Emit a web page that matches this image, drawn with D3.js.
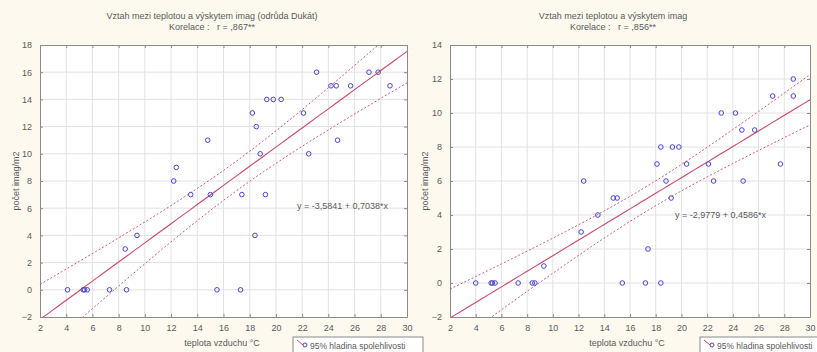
<!DOCTYPE html>
<html>
<head>
<meta charset="utf-8">
<script src="https://cdn.jsdelivr.net/npm/d3@7"></script>
<style>
  body { margin: 0; background: #fdf9ef; }
  svg { display: block; }
</style>
</head>
<body>
<div id="chart"></div>
<script>
// data (temperature vs. count)
const tempDukat  = [4.1, 5.3, 5.4, 5.6, 7.3, 8.5, 8.6, 9.4, 12.2, 12.4, 13.5, 14.8, 15.0, 15.5, 17.3, 17.4, 18.2, 18.4, 18.5, 18.8, 19.2, 19.3, 19.8, 20.4, 22.1, 22.5, 23.1, 24.2, 24.6, 24.7, 25.7, 27.1, 27.8, 28.7];
const countDukat = [0, 0, 0, 0, 0, 3, 0, 4, 8, 9, 7, 11, 7, 0, 0, 7, 13, 4, 12, 10, 7, 14, 14, 14, 13, 10, 16, 15, 15, 11, 15, 16, 16, 15];

const tempAll  = [4.0, 5.2, 5.3, 5.5, 7.3, 8.4, 8.6, 9.3, 12.2, 12.4, 13.5, 14.7, 15.0, 15.4, 17.2, 17.4, 18.1, 18.4, 18.4, 18.8, 19.2, 19.3, 19.8, 20.4, 22.1, 22.5, 23.1, 24.2, 24.7, 24.8, 25.7, 27.1, 27.7, 28.7, 28.7];
const countAll = [0, 0, 0, 0, 0, 0, 0, 1, 3, 6, 4, 5, 5, 0, 0, 2, 7, 8, 0, 6, 5, 8, 8, 7, 7, 6, 10, 10, 9, 6, 9, 11, 7, 12, 11];

const xTicks = [2, 4, 6, 8, 10, 12, 14, 16, 18, 20, 22, 24, 26, 28, 30];
const yTicksDukat = [-2, 0, 2, 4, 6, 8, 10, 12, 14, 16, 18];
const yTicksAll = [-2, 0, 2, 4, 6, 8, 10, 12, 14];

const fitDukat = [-3.5841, 0.7038];
const fitAll = [-2.9779, 0.4586];

const titles = ["Vztah mezi teplotou a výskytem imag (odrůda Dukát)", "Vztah mezi teplotou a výskytem imag"];
const corrLabels = ["Korelace :   r = ,867**", "Korelace :   r = ,856**"];
const eqLabels = ["y = -3,5841 + 0,7038*x", "y = -2,9779 + 0,4586*x"];

const width = 817, height = 352;
const font = "'Liberation Sans', Arial, sans-serif";
const textCol = "#5a5a5a", lineCol = "#c8486a", dotCol = "#4a44c8";

const svg = d3.select("#chart").append("svg")
  .attr("width", width)
  .attr("height", height)
  .style("font-family", font);

svg.append("rect").attr("width", width).attr("height", height).attr("fill", "#fdf9ef");

const panels = [
  { id: "a", xs: tempDukat, ys: countDukat, yTicks: yTicksDukat, fit: fitDukat,
    left: 40, right: 407, title: titles[0], corr: corrLabels[0], eq: eqLabels[0],
    eqX: 297, eqY: 209, titleX: 212, yLabX: 16, xLabX: 222, legX: 293 },
  { id: "b", xs: tempAll, ys: countAll, yTicks: yTicksAll, fit: fitAll,
    left: 450, right: 810, title: titles[1], corr: corrLabels[1], eq: eqLabels[1],
    eqX: 675, eqY: 218, titleX: 613, yLabX: 425, xLabX: 627, legX: 700 }
];

panels.forEach(p => {
  const top = 45, bottom = 317;
  const x = d3.scaleLinear().domain([2, 30]).range([p.left, p.right]);
  const y = d3.scaleLinear().domain([p.yTicks[0], p.yTicks[p.yTicks.length - 1]]).range([bottom, top]);

  const g = svg.append("g");

  // plot area
  g.append("rect")
    .attr("x", p.left).attr("y", top)
    .attr("width", p.right - p.left).attr("height", bottom - top)
    .attr("fill", "#fff");

  // grid
  g.append("g").selectAll("line").data(xTicks.slice(1, -1)).join("line")
    .attr("x1", d => x(d)).attr("x2", d => x(d))
    .attr("y1", top).attr("y2", bottom)
    .attr("stroke", "#e2e2e2");
  g.append("g").selectAll("line").data(p.yTicks.slice(1, -1)).join("line")
    .attr("y1", d => y(d)).attr("y2", d => y(d))
    .attr("x1", p.left).attr("x2", p.right)
    .attr("stroke", "#e2e2e2");

  // axes with inside ticks
  const axB = g.append("g").attr("transform", `translate(0,${bottom})`)
    .call(d3.axisBottom(x).tickValues(xTicks).tickSizeInner(-3).tickSizeOuter(0).tickPadding(8));
  const axT = g.append("g").attr("transform", `translate(0,${top})`)
    .call(d3.axisTop(x).tickValues(xTicks).tickSizeInner(-3).tickSizeOuter(0).tickFormat(""));
  const axL = g.append("g").attr("transform", `translate(${p.left},0)`)
    .call(d3.axisLeft(y).tickValues(p.yTicks).tickSizeInner(-3).tickSizeOuter(0).tickPadding(8));
  const axR = g.append("g").attr("transform", `translate(${p.right},0)`)
    .call(d3.axisRight(y).tickValues(p.yTicks).tickSizeInner(-3).tickSizeOuter(0).tickFormat(""));
  [axB, axT, axL, axR].forEach(a => {
    a.select(".domain").attr("stroke", "#8a8a8a");
    a.selectAll(".tick line").attr("stroke", "#8a8a8a");
    a.selectAll("text").attr("fill", textCol).attr("font-size", 9).attr("font-family", font);
  });

  // regression line and 95% band from the points
  const [a0, b0] = p.fit;
  const n = p.xs.length;
  const mx = d3.mean(p.xs);
  const sxx = d3.sum(p.xs, v => (v - mx) ** 2);
  const sse = d3.sum(p.xs, (v, i) => (p.ys[i] - (a0 + b0 * v)) ** 2);
  const s = Math.sqrt(sse / (n - 2));
  const t = 2.035;
  const half = v => t * s * Math.sqrt(1 / n + (v - mx) ** 2 / sxx);
  const grid = d3.range(2, 30.001, 0.5);

  const clipId = "clip-" + p.id;
  svg.append("clipPath").attr("id", clipId).append("rect")
    .attr("x", p.left).attr("y", top).attr("width", p.right - p.left).attr("height", bottom - top);

  const lines = g.append("g").attr("clip-path", `url(#${clipId})`);
  const line = d3.line().x(d => x(d[0])).y(d => y(d[1]));
  lines.append("path")
    .attr("d", line(grid.map(v => [v, a0 + b0 * v])))
    .attr("fill", "none").attr("stroke", lineCol).attr("stroke-width", 1.1);
  [1, -1].forEach(sign => {
    lines.append("path")
      .attr("d", line(grid.map(v => [v, a0 + b0 * v + sign * half(v)])))
      .attr("fill", "none").attr("stroke", lineCol).attr("stroke-width", 0.9)
      .attr("stroke-dasharray", "2,2");
  });

  // points
  g.append("g").selectAll("circle").data(p.xs).join("circle")
    .attr("cx", d => x(d)).attr("cy", (d, i) => y(p.ys[i]))
    .attr("r", 2.3)
    .attr("fill", "none").attr("stroke", dotCol).attr("stroke-width", 1);

  // texts
  g.append("text").attr("x", p.titleX).attr("y", 19).attr("text-anchor", "middle")
    .attr("font-size", 9).attr("fill", textCol).text(p.title);
  g.append("text").attr("x", p.titleX).attr("y", 30).attr("text-anchor", "middle")
    .attr("font-size", 9).attr("fill", textCol).style("white-space", "pre")
    .attr("xml:space", "preserve").text(p.corr);
  g.append("text").attr("x", p.eqX).attr("y", p.eqY)
    .attr("font-size", 9).attr("fill", textCol).text(p.eq);
  g.append("text").attr("x", p.xLabX).attr("y", 346).attr("text-anchor", "middle")
    .attr("font-size", 9).attr("fill", textCol).text("teplota vzduchu °C");
  g.append("text")
    .attr("transform", `translate(${p.yLabX},${181}) rotate(-90)`)
    .attr("text-anchor", "middle").attr("dy", "0.35em")
    .attr("font-size", 9).attr("fill", textCol).text("počet imag/m2");

  // legend box (cut off by the bottom edge)
  const leg = g.append("g").attr("transform", `translate(${p.legX},337)`);
  leg.append("rect").attr("width", 130).attr("height", 22)
    .attr("fill", "#fff").attr("stroke", "#8a8a8a");
  leg.append("line").attr("x1", 4).attr("y1", 3).attr("x2", 10).attr("y2", 8)
    .attr("stroke", lineCol).attr("stroke-width", 1);
  leg.append("circle").attr("cx", 12).attr("cy", 8).attr("r", 2)
    .attr("fill", "none").attr("stroke", dotCol);
  leg.append("text").attr("x", 17).attr("y", 12)
    .attr("font-size", 8.5).attr("fill", textCol).text("95% hladina spolehlivosti");
});
</script>
</body>
</html>
